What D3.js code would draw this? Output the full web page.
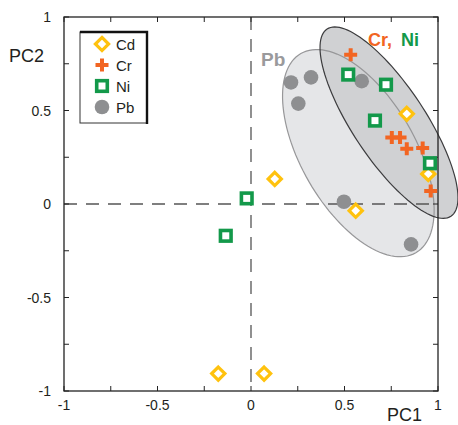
<!DOCTYPE html>
<html>
<head>
<meta charset="utf-8">
<script src="https://cdn.jsdelivr.net/npm/d3@7/dist/d3.min.js"></script>
<style>
  html, body { margin: 0; padding: 0; background: #fff; }
  svg { display: block; font-family: "Liberation Sans", Arial, sans-serif; }
</style>
</head>
<body>
<svg id="chart" width="458" height="425"></svg>
<script>
// PCA loadings of the four metals
const cdPoints = [
  [0.127, 0.134], [0.56, -0.036], [0.833, 0.482],
  [0.948, 0.161], [-0.175, -0.907], [0.07, -0.907]
];
const crPoints = [
  [0.533, 0.798], [0.753, 0.355], [0.797, 0.355],
  [0.833, 0.296], [0.918, 0.299], [0.961, 0.07]
];
const niPoints = [
  [-0.023, 0.03], [-0.135, -0.17], [0.52, 0.692],
  [0.722, 0.638], [0.663, 0.446], [0.957, 0.218]
];
const pbPoints = [
  [0.214, 0.65], [0.321, 0.677], [0.253, 0.537],
  [0.592, 0.657], [0.497, 0.012], [0.856, -0.216]
];

// Group ellipses: centre, semi-axes and rotation (data units / degrees)
const pbGroup = { cx: 0.574, cy: 0.272, a: 0.615, b: 0.305, angle: -60 };
const crNiGroup = { cx: 0.738, cy: 0.435, a: 0.6, b: 0.195, angle: -56.5 };

const axisTicks = [-1, -0.75, -0.5, -0.25, 0, 0.25, 0.5, 0.75, 1];
const labelTicks = [-1, -0.5, 0, 0.5, 1];

const legendItems = ["Cd", "Cr", "Ni", "Pb"];

const colors = { Cd: "#FFC20E", Cr: "#F26522", Ni: "#13994A", Pb: "#8E8F91" };

const svg = d3.select("#chart");
const x = d3.scaleLinear().domain([-1, 1]).range([64, 438]);
const y = d3.scaleLinear().domain([-1, 1]).range([391, 17]);

// ellipse outline built in data space and projected through the scales
function ellipsePath(e) {
  const th = e.angle * Math.PI / 180;
  const pts = d3.range(0, 361, 3).map(d => {
    const t = d * Math.PI / 180;
    const u = e.a * Math.cos(t), v = e.b * Math.sin(t);
    return [x(e.cx + u * Math.cos(th) - v * Math.sin(th)),
            y(e.cy + u * Math.sin(th) + v * Math.cos(th))];
  });
  return d3.line().curve(d3.curveLinearClosed)(pts);
}

// ellipse fills
svg.append("path").attr("d", ellipsePath(pbGroup)).attr("fill", "#E5E6E8");
svg.append("path").attr("d", ellipsePath(crNiGroup)).attr("fill", "#D0D1D3");
// ellipse outlines
svg.append("path").attr("d", ellipsePath(pbGroup))
  .attr("fill", "none").attr("stroke", "#979799").attr("stroke-width", 1.2);
svg.append("path").attr("d", ellipsePath(crNiGroup))
  .attr("fill", "none").attr("stroke", "#3C3C3E").attr("stroke-width", 1.2);

// zero lines
svg.append("line")
  .attr("x1", x(-1)).attr("x2", x(1)).attr("y1", y(0)).attr("y2", y(0))
  .attr("stroke", "#555").attr("stroke-width", 1.3).attr("stroke-dasharray", "13,9");
svg.append("line")
  .attr("x1", x(0)).attr("x2", x(0)).attr("y1", y(1)).attr("y2", y(-1))
  .attr("stroke", "#555").attr("stroke-width", 1.3).attr("stroke-dasharray", "13,9");

// axes box with inward ticks on all sides
const tickLen = 5;
const ax = svg.append("g").attr("stroke", "#222").attr("fill", "none");
ax.append("rect").attr("x", x(-1)).attr("y", y(1))
  .attr("width", x(1) - x(-1)).attr("height", y(-1) - y(1)).attr("stroke-width", 1.3);
axisTicks.forEach(t => {
  ax.append("line").attr("x1", x(t)).attr("x2", x(t)).attr("y1", y(-1)).attr("y2", y(-1) - tickLen);
  ax.append("line").attr("x1", x(t)).attr("x2", x(t)).attr("y1", y(1)).attr("y2", y(1) + tickLen);
  ax.append("line").attr("y1", y(t)).attr("y2", y(t)).attr("x1", x(-1)).attr("x2", x(-1) + tickLen);
  ax.append("line").attr("y1", y(t)).attr("y2", y(t)).attr("x1", x(1)).attr("x2", x(1) - tickLen);
});

const fmt = d => d === 0 ? "0" : String(d);
svg.append("g").selectAll("text").data(labelTicks).join("text")
  .attr("x", d => x(d)).attr("y", 410).attr("text-anchor", "middle")
  .attr("font-size", 14).attr("fill", "#231F20").text(fmt);
svg.append("g").selectAll("text").data(labelTicks).join("text")
  .attr("x", 51).attr("y", d => y(d) + 5).attr("text-anchor", "end")
  .attr("font-size", 14).attr("fill", "#231F20").text(fmt);

svg.append("text").attr("x", 9).attr("y", 62).attr("font-size", 18)
  .attr("fill", "#231F20").text("PC2");
svg.append("text").attr("x", 387).attr("y", 421).attr("font-size", 18)
  .attr("fill", "#231F20").text("PC1");

// group labels
svg.append("text").attr("x", 261).attr("y", 66).attr("font-size", 19)
  .attr("font-weight", "bold").attr("fill", "#9A9A9C").text("Pb");
const grp = svg.append("text").attr("x", 368).attr("y", 46)
  .attr("font-size", 18).attr("font-weight", "bold");
grp.append("tspan").attr("fill", colors.Cr).text("Cr,");
grp.append("tspan").attr("x", 401).attr("fill", colors.Ni).text("Ni");

// marker drawing helpers
const marker = {
  Pb: (g, px, py) => g.append("circle").attr("cx", px).attr("cy", py).attr("r", 7.3)
    .attr("fill", colors.Pb),
  Cd: (g, px, py) => g.append("path")
    .attr("d", `M${px},${py - 6.6}L${px + 6.6},${py}L${px},${py + 6.6}L${px - 6.6},${py}Z`)
    .attr("fill", "#fff").attr("stroke", colors.Cd).attr("stroke-width", 3.2),
  Cr: (g, px, py) => g.append("path")
    .attr("d", `M${px - 6.5},${py}H${px + 6.5}M${px},${py - 6.5}V${py + 6.5}`)
    .attr("stroke", colors.Cr).attr("stroke-width", 4),
  Ni: (g, px, py) => g.append("rect").attr("x", px - 5.3).attr("y", py - 5.3)
    .attr("width", 10.6).attr("height", 10.6)
    .attr("fill", "#fff").attr("stroke", colors.Ni).attr("stroke-width", 3.6)
};

const series = [["Pb", pbPoints], ["Cd", cdPoints], ["Cr", crPoints], ["Ni", niPoints]];
const pg = svg.append("g");
series.forEach(([name, pts]) => pts.forEach(p => marker[name](pg, x(p[0]), y(p[1]))));

// legend
const lg = svg.append("g");
lg.append("rect").attr("x", 80).attr("y", 32).attr("width", 67).attr("height", 91)
  .attr("fill", "#fff").attr("stroke", "#333").attr("stroke-width", 1);
lg.append("path").attr("d", "M80,32H147V124").attr("fill", "none")
  .attr("stroke", "#111").attr("stroke-width", 2.4);
legendItems.forEach((name, i) => {
  const cy = 44 + i * 21;
  marker[name](lg, 102, cy);
  lg.append("text").attr("x", 116).attr("y", cy + 5.5).attr("font-size", 15)
    .attr("fill", "#231F20").text(name);
});
</script>
</body>
</html>
